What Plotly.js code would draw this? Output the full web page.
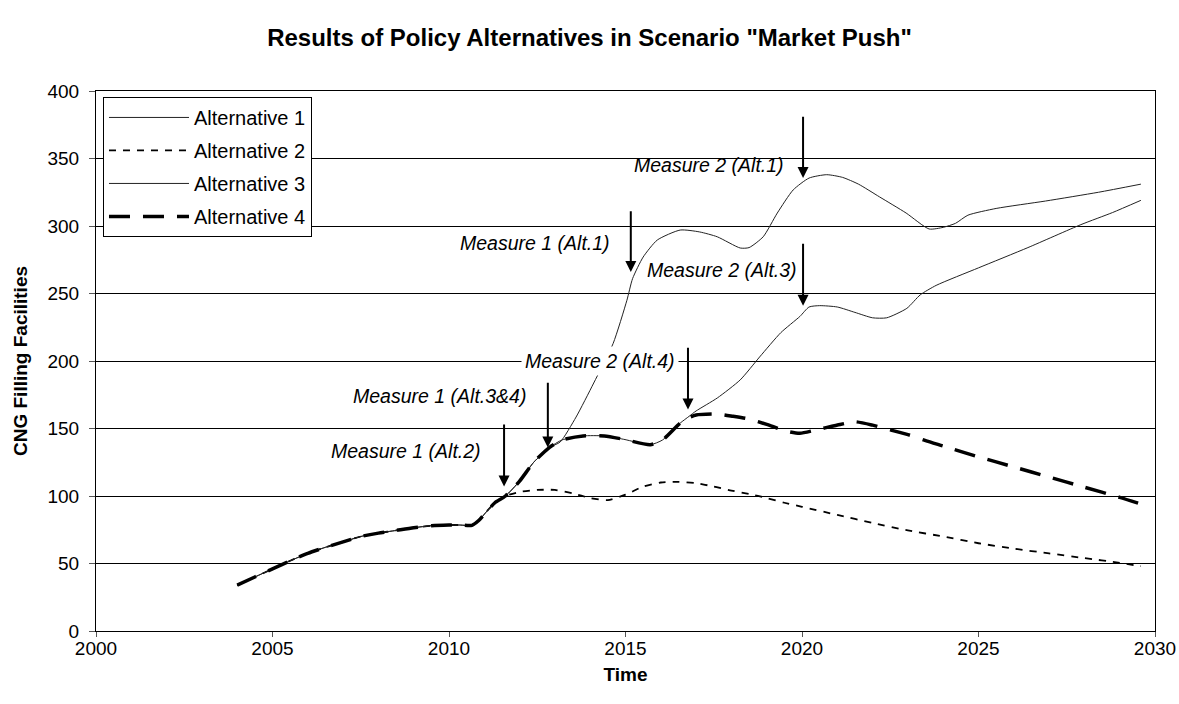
<!DOCTYPE html>
<html>
<head>
<meta charset="utf-8">
<script src="https://cdn.plot.ly/plotly-3.0.1.min.js"></script>
<style>html,body{margin:0;padding:0;background:#fff;}#chart{width:1179px;height:704px;}</style>
</head>
<body>
<div id="chart"></div>
<script>
// Common start (all alternatives identical until ~2011.6)
const commonYears = [2004, 2004.5, 2005, 2005.5, 2006, 2006.5, 2007, 2007.5, 2008, 2008.5, 2009, 2009.5, 2010, 2010.3, 2010.65, 2010.85, 2011.05, 2011.3, 2011.6];
const commonVals  = [34, 40, 46, 52, 57.5, 62, 66, 70, 72.5, 74.5, 76.5, 78, 78.5, 78.5, 78.3, 82, 88, 95, 100];

// Alternative 2 after the common part
const alt2Years = [2012, 2012.5, 2013, 2013.5, 2014, 2014.5, 2015, 2015.5, 2016, 2016.5, 2017, 2017.5, 2018, 2018.5, 2019, 2019.5, 2020, 2021, 2022, 2023, 2024, 2025, 2026, 2027, 2028, 2029, 2029.6];
const alt2Vals  = [103, 104.5, 104.5, 102, 98.5, 97, 101, 107, 110, 110.5, 109.5, 107, 104, 101.5, 98.5, 95, 92, 86, 80, 74.5, 70, 65, 61, 57.5, 54, 50.5, 48];

// Alternatives 3 & 4 shared part after the common part
const alt34Years = [2012, 2012.4, 2012.85, 2013.2, 2013.8, 2014.4, 2014.95, 2015.7, 2016.05, 2016.55];
const alt34Vals  = [111, 125, 136, 141.5, 144.5, 144.5, 142, 138, 141.5, 154];

// Alternative 1 after divergence
const alt1Years = [2012, 2012.4, 2012.85, 2013.15, 2013.6, 2014.1, 2014.65, 2015.04, 2015.2, 2015.5, 2015.9, 2016.55, 2017.1, 2017.6, 2018.25, 2018.5, 2018.9, 2019.3, 2019.75, 2020.2, 2020.7, 2021.15, 2021.6, 2022.2, 2022.95, 2023.6, 2024.0, 2024.35, 2024.7, 2025.5, 2026.9, 2028.4, 2029.6];
const alt1Vals  = [111, 125, 136, 140, 158.5, 183.7, 213, 245, 261, 277, 289.6, 297, 295.6, 292, 283.7, 284, 292, 309.6, 326.7, 335.5, 338, 336, 331, 321.5, 309.6, 297.8, 299, 302, 308, 313, 318.5, 325, 331];

// Alternative 3 after divergence from 4
const alt3Years = [2016.8, 2017.0, 2017.6, 2018.25, 2018.8, 2019.4, 2019.94, 2020.2, 2020.5, 2021.0, 2021.5, 2022.0, 2022.4, 2022.97, 2023.35, 2023.8, 2025.0, 2026.4, 2027.9, 2028.8, 2029.6];
const alt3Vals  = [159, 163, 172.6, 186, 203, 221, 233, 240, 241, 240, 236, 232, 232, 239, 249, 256, 269, 284, 301, 310, 319];

// Alternative 4 after divergence from 3
const alt4Years = [2016.8, 2017.0, 2017.6, 2018.05, 2018.5, 2019.0, 2019.57, 2019.94, 2020.5, 2021.08, 2021.5, 2022, 2022.5, 2023, 2023.5, 2024, 2025, 2026, 2027, 2028, 2029, 2029.6];
const alt4Vals  = [158, 160, 160.7, 159, 157, 153, 148, 146.5, 149.6, 153, 155, 152.5, 149, 145.5, 141, 137, 129, 121.5, 114, 106.5, 99, 94];

const seriesNames = ["Alternative 1", "Alternative 2", "Alternative 3", "Alternative 4"];

// Measure annotations
const measureLabels = ["Measure 1 (Alt.2)", "Measure 1 (Alt.3&4)", "Measure 1 (Alt.1)", "Measure 2 (Alt.4)", "Measure 2 (Alt.3)", "Measure 2 (Alt.1)"];
const measureX      = [2011.56, 2012.8, 2015.15, 2016.77, 2020.03, 2020.03];
const measureTail   = [154, 185, 312, 211, 288, 382];
const measureHead   = [107, 136, 266, 164, 241, 335.5];
const labelRightX   = [2010.96, 2012.25, 2014.62, 2016.52, 2019.92, 2019.55];
const labelY        = [133.5, 174, 287.5, 200, 267.5, 345];
const labelBg       = [null, null, null, "#ffffff", null, null];

const font = "Liberation Sans, Arial, Helvetica, sans-serif";

const alt1X = commonYears.concat(alt1Years), alt1Y = commonVals.concat(alt1Vals);
const alt2X = commonYears.concat(alt2Years), alt2Y = commonVals.concat(alt2Vals);
const alt3X = commonYears.concat(alt34Years, alt3Years), alt3Y = commonVals.concat(alt34Vals, alt3Vals);
const alt4X = commonYears.concat(alt34Years, alt4Years), alt4Y = commonVals.concat(alt34Vals, alt4Vals);

const traces = [
  {x: alt1X, y: alt1Y, name: seriesNames[0], legendgroup: "a1", mode: "lines",
   line: {color: "#222", width: 1, shape: "spline", smoothing: 0.6}},
  {x: alt2X, y: alt2Y, name: seriesNames[1], legendgroup: "a2", mode: "lines",
   line: {color: "#000", width: 1.8, dash: "7px,7px", shape: "spline", smoothing: 0.6}},
  {x: alt3X, y: alt3Y, name: seriesNames[2], legendgroup: "a3", mode: "lines",
   line: {color: "#222", width: 1, shape: "spline", smoothing: 0.6}},
  {x: alt4X, y: alt4Y, name: seriesNames[3], legendgroup: "a4", mode: "lines",
   line: {color: "#000", width: 3.5, dash: "21px,13px", shape: "spline", smoothing: 0.6}}
];

const annotations = [];
for (let i = 0; i < measureLabels.length; i++) {
  annotations.push({
    x: measureX[i], y: measureHead[i], xref: "x", yref: "y",
    ax: measureX[i], ay: measureTail[i], axref: "x", ayref: "y",
    text: "", showarrow: true, arrowhead: 2, arrowsize: 1.1, arrowwidth: 2, arrowcolor: "#000", standoff: 0
  });
  const lab = {
    x: labelRightX[i], y: labelY[i], xref: "x", yref: "y",
    text: "<i>" + measureLabels[i] + "</i>", showarrow: false,
    xanchor: "right", yanchor: "middle",
    font: {family: font, size: 19.5, color: "#000"}
  };
  if (labelBg[i]) { lab.bgcolor = labelBg[i]; lab.borderpad = 3; }
  annotations.push(lab);
}

const layout = {
  width: 1179, height: 704,
  paper_bgcolor: "#fff", plot_bgcolor: "#fff",
  margin: {l: 96, r: 24, t: 91, b: 73},
  font: {family: font, size: 19, color: "#000"},
  title: {text: "<b>Results of Policy Alternatives in Scenario \"Market Push\"</b>",
          x: 0.5, xref: "container", y: 1 - 38/704, yref: "container", yanchor: "middle",
          font: {family: font, size: 24, color: "#000"}},
  xaxis: {range: [2000, 2030], tickvals: [2000, 2005, 2010, 2015, 2020, 2025, 2030],
          showgrid: false, zeroline: false, showline: true, linecolor: "#000", linewidth: 1, mirror: true,
          ticks: "outside", ticklen: 5, tickcolor: "#555", ticklabelstandoff: -5,
          tickfont: {family: font, size: 19},
          title: {text: "<b>Time</b>", standoff: 9, font: {family: font, size: 19}}},
  yaxis: {range: [0, 400], tickvals: [0, 50, 100, 150, 200, 250, 300, 350, 400],
          showgrid: true, gridcolor: "#000", gridwidth: 1, zeroline: false,
          showline: true, linecolor: "#000", linewidth: 1, mirror: true,
          ticks: "outside", ticklen: 6, tickcolor: "#555", ticklabelstandoff: 6,
          tickfont: {family: font, size: 19},
          title: {text: "<b>CNG Filling Facilities</b>", standoff: 14, font: {family: font, size: 19}}},
  showlegend: true,
  legend: {x: 0.0066, y: 0.989, xanchor: "left", yanchor: "top",
           bgcolor: "#fff", bordercolor: "#000", borderwidth: 1,
           font: {family: font, size: 20}, traceorder: "grouped", tracegroupgap: 4,
           itemwidth: 80, entrywidth: 235, entrywidthmode: "pixels"},
  annotations: annotations
};

Plotly.newPlot("chart", traces, layout, {staticPlot: true, displayModeBar: false});
</script>
</body>
</html>
